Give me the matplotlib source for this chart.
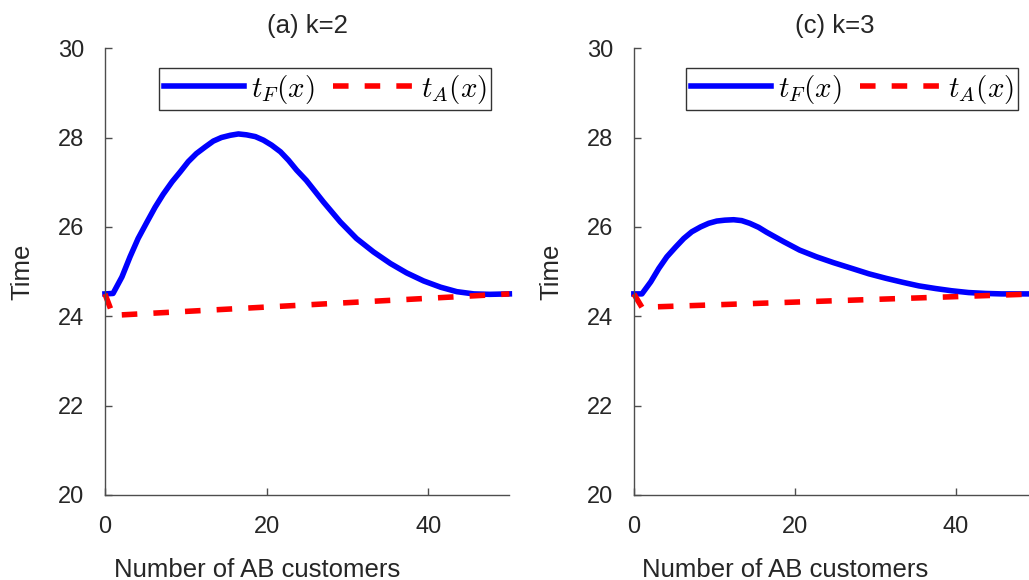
"""Two-panel comparison of t_F(x) and t_A(x) against the number of AB customers."""

import matplotlib

matplotlib.use("Agg")
import matplotlib.pyplot as plt

# panel (a), k=2
x_f_k2 = [0, 1.0, 2.1, 3.1, 4.1, 5.2, 6.2, 7.2, 8.3, 9.3, 10.3, 11.3, 12.4,
          13.4, 14.4, 15.5, 16.5, 17.5, 18.6, 19.6, 20.6, 21.7, 22.7, 23.7,
          24.9, 27.0, 29.1, 31.1, 33.2, 35.3, 37.3, 39.4, 41.5, 43.5, 45.6,
          47.6, 50]
t_f_k2 = [24.5, 24.51, 24.88, 25.33, 25.74, 26.11, 26.44, 26.73, 27.01, 27.23,
          27.46, 27.64, 27.79, 27.92, 28.0, 28.05, 28.08, 28.06, 28.02, 27.94,
          27.83, 27.68, 27.49, 27.27, 27.04, 26.56, 26.11, 25.74, 25.44, 25.18,
          24.97, 24.79, 24.65, 24.55, 24.5, 24.49, 24.5]
x_a_k2 = [0, 1, 50]
t_a_k2 = [24.5, 24.02, 24.5]

# panel (c), k=3
x_f_k3 = [0, 1.0, 2.1, 3.1, 4.1, 5.2, 6.2, 7.2, 8.3, 9.3, 10.3, 11.3, 12.4,
          13.4, 14.4, 15.5, 16.5, 18.6, 20.6, 22.7, 24.8, 27.1, 29.2, 31.3,
          33.4, 35.4, 37.5, 39.5, 41.6, 43.7, 45.7, 47.8, 50]
t_f_k3 = [24.5, 24.5, 24.77, 25.07, 25.33, 25.55, 25.74, 25.89, 26.0, 26.08,
          26.13, 26.15, 26.16, 26.14, 26.08, 25.99, 25.88, 25.67, 25.48, 25.33,
          25.2, 25.07, 24.95, 24.85, 24.76, 24.68, 24.62, 24.57, 24.53, 24.51,
          24.5, 24.5, 24.5]
x_a_k3 = [0, 1, 50]
t_a_k3 = [24.5, 24.2, 24.5]

titles = ["(a) k=2", "(c) k=3"]
x_ticks = [0, 20, 40]
y_ticks = [20, 22, 24, 26, 28, 30]
x_label = "Number of AB customers"
y_label = "Time"

TEXT = "#262626"
SPINE = "#4d4d4d"


def draw_panel(ax, title, x_f, t_f, x_a, t_a):
    ax.plot(x_f, t_f, color=(0, 0, 1), lw=4.0, label=r"$t_F(x)$",
            solid_joinstyle="round", clip_on=False)
    ax.plot(x_a, t_a, color=(1, 0, 0), lw=4.0, ls=(0, (2.8, 2.9)),
            label=r"$t_A(x)$", dash_capstyle="butt", clip_on=False)
    ax.set_xlim(0, 50)
    ax.set_ylim(20, 30)
    ax.set_xticks(x_ticks)
    ax.set_yticks(y_ticks)
    for side in ("top", "right"):
        ax.spines[side].set_visible(False)
    for side in ("left", "bottom"):
        ax.spines[side].set_color(SPINE)
        ax.spines[side].set_linewidth(1.0)
    ax.tick_params(direction="in", length=5, width=1.0, color=SPINE,
                   labelcolor=TEXT, labelsize=17)
    ax.tick_params(axis="x", pad=15)
    ax.tick_params(axis="y", pad=15)
    ax.set_title(title, fontsize=18.5, color=TEXT, pad=11)
    ax.set_xlabel(x_label, fontsize=18.5, color=TEXT)
    ax.xaxis.set_label_coords(0.376, -0.141)
    ax.set_ylabel(y_label, fontsize=18.5, color=TEXT)
    ax.yaxis.set_label_coords(-0.175, 0.5)
    leg = ax.legend(loc="upper right", bbox_to_anchor=(0.955, 0.955), ncol=2,
                    fontsize=21, handlelength=2.75, columnspacing=0.62,
                    handletextpad=0.25, borderpad=0.15, borderaxespad=0.0,
                    fancybox=False, framealpha=1.0, edgecolor="#333333")
    leg.get_frame().set_linewidth(1.0)


def main():
    plt.rcParams["font.family"] = ["Liberation Sans", "DejaVu Sans"]
    plt.rcParams["mathtext.fontset"] = "cm"

    fig = plt.figure(figsize=(10.29, 5.8), dpi=100)
    ax_left = fig.add_axes([0.102, 0.1466, 0.393, 0.7704])
    ax_right = fig.add_axes([0.616, 0.1466, 0.391, 0.7704])

    draw_panel(ax_left, titles[0], x_f_k2, t_f_k2, x_a_k2, t_a_k2)
    draw_panel(ax_right, titles[1], x_f_k3, t_f_k3, x_a_k3, t_a_k3)

    fig.savefig("out.png", dpi=100)
    plt.close(fig)


if __name__ == "__main__":
    main()
